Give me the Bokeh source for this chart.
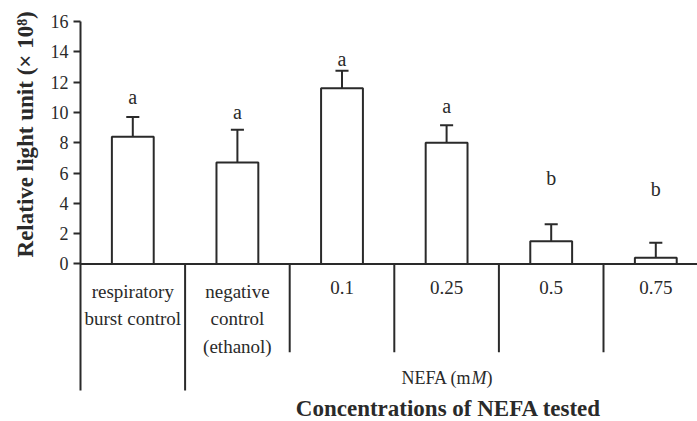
import math
from bokeh.plotting import figure
from bokeh.models import Range1d, LinearAxis, FixedTicker, Label, ColumnDataSource
from bokeh.core.properties import value
from bokeh.embed import file_html
from bokeh.resources import INLINE

# ---- data ----
categories = ["respiratory\nburst control", "negative\ncontrol\n(ethanol)", "0.1", "0.25", "0.5", "0.75"]
means = [8.4, 6.7, 11.6, 8.0, 1.5, 0.4]
errors = [1.3, 2.15, 1.15, 1.15, 1.12, 1.0]
letters = ["a", "a", "a", "a", "b", "b"]
letter_y = [11.0, 10.0, 13.5, 10.45, 5.7, 4.95]
y_ticks = [0, 2, 4, 6, 8, 10, 12, 14, 16]
y_title = "Relative light unit (\u00d7 10\u2078)"
x_title = "Concentrations of NEFA tested"

INK = "#2a2a2a"
SERIF = "Liberation Serif"

n = len(categories)
xs = [i + 0.5 for i in range(n)]
bar_w = 0.4
cap_w = 0.125
PX = 104.6  # pixels per category unit
LEFT = 14

p = figure(width=697, height=421, output_backend="svg", toolbar_location=None,
           x_range=Range1d(-(80 - LEFT) / PX, (697 - 80) / PX), y_range=Range1d(-10.4, 17.386),
           min_border_left=LEFT, min_border_right=0, min_border_top=0, min_border_bottom=0,
           x_axis_location=None, y_axis_location=None)
p.xgrid.visible = False
p.ygrid.visible = False
p.outline_line_color = None
p.background_fill_color = "white"
p.border_fill_color = "white"

# y axis (line + ticks) at x = 0, extending below zero as the first separator
yax = LinearAxis(ticker=FixedTicker(ticks=y_ticks), bounds=(-8.36, 16), fixed_location=0,
                 major_label_overrides={t: "" for t in y_ticks})
yax.axis_line_width = 2
yax.axis_line_color = INK
yax.major_tick_line_color = INK
yax.major_tick_line_width = 2
yax.major_tick_out = 7
yax.major_tick_in = 0
yax.minor_tick_line_color = None
yax.major_label_standoff = 0
p.add_layout(yax, "left")

# y tick labels
p.text(x=[0] * len(y_ticks), y=y_ticks, text=[str(t) for t in y_ticks], x_offset=-12,
       text_align="right", text_baseline="middle",
       text_font=value(SERIF), text_font_size=value("18px"), text_color=INK)

# y title
p.text(x=[-(80 - 25) / PX], y=[8.55], text=[y_title], angle=math.pi / 2,
       text_align="center", text_baseline="middle",
       text_font=value(SERIF), text_font_size=value("23px"), text_font_style="bold", text_color=INK)

# x baseline
p.segment(x0=[0], y0=[0], x1=[(697 - 80) / PX], y1=[0], line_color=INK, line_width=2)

src = ColumnDataSource(dict(x=xs, top=means, err_top=[m + e for m, e in zip(means, errors)],
                            cat=categories, letter=letters, ly=letter_y))

# error bars (upper only)
p.segment(x0="x", y0="top", x1="x", y1="err_top", source=src, line_color=INK, line_width=2)
p.segment(x0=[x - cap_w / 2 for x in xs], y0=src.data["err_top"],
          x1=[x + cap_w / 2 for x in xs], y1=src.data["err_top"], line_color=INK, line_width=2)

# bars
p.vbar(x="x", top="top", bottom=0, width=bar_w, source=src,
       fill_color="white", line_color=INK, line_width=2)

# significance letters
p.text(x="x", y="ly", text="letter", source=src, text_align="center", text_baseline="middle",
       text_font=value(SERIF), text_font_size=value("20px"), text_color=INK)

# group separators below axis
sep_x = [float(i) for i in range(1, n)]
sep_bottom = [-8.36 if i == 1 else -5.83 for i in range(1, n)]
p.segment(x0=sep_x, y0=[0] * len(sep_x), x1=sep_x, y1=sep_bottom, line_color=INK, line_width=2)

# category labels
p.text(x="x", y=-1.15, text="cat", source=src, text_align="center", text_baseline="top",
       text_font=value(SERIF), text_font_size=value("19px"), text_color=INK, text_line_height=1.29)

# NEFA (mM)
mid = (xs[2] + xs[5]) / 2 - 0.5
p.add_layout(Label(x=mid, y=-7.55, x_offset=25, text="NEFA (m", text_align="right", text_baseline="middle",
                   text_font=SERIF, text_font_size="18px", text_color=INK))
p.add_layout(Label(x=mid, y=-7.55, x_offset=25, text="M", text_align="left", text_baseline="middle",
                   text_font=SERIF, text_font_size="18px", text_font_style="italic", text_color=INK))
p.add_layout(Label(x=mid, y=-7.55, x_offset=40, text=")", text_align="left", text_baseline="middle",
                   text_font=SERIF, text_font_size="18px", text_color=INK))

# x title
p.add_layout(Label(x=mid, y=-9.55, x_offset=2, text=x_title,
                   text_align="center", text_baseline="middle",
                   text_font=SERIF, text_font_size="23px", text_font_style="bold", text_color=INK))

open("out.html", "w").write(file_html(p, INLINE))
